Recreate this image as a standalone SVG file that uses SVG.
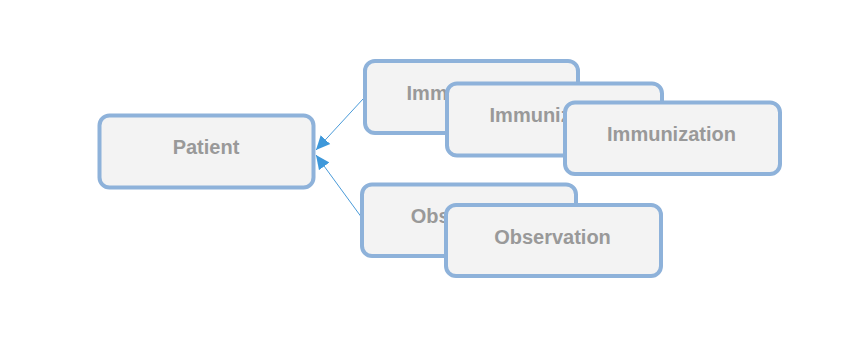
<svg xmlns="http://www.w3.org/2000/svg" width="850" height="338" viewBox="0 0 850 338">
<style>
.box{fill:#f3f3f3;stroke:#8eb2da;stroke-width:4}
.lbl{font-family:"Liberation Sans",Arial,sans-serif;font-weight:bold;font-size:20px;fill:#999999;text-anchor:middle}
.edge{stroke:#4a9bd9;stroke-width:1;fill:none}
</style>
<defs>
<marker id="arr" markerUnits="userSpaceOnUse" markerWidth="16" markerHeight="14" refX="14" refY="7" orient="auto" viewBox="0 0 16 14">
<path d="M0,0.5 L14,7 L0,13.5 Z" fill="#3e98da"/>
</marker>
</defs>
<rect width="850" height="338" fill="#ffffff"/>
<g id="connectors">
<line class="edge" x1="363" y1="99" x2="316" y2="150" marker-end="url(#arr)"/>
<line class="edge" x1="362" y1="218" x2="316" y2="155" marker-end="url(#arr)"/>
</g>
<g id="patient">
<rect class="box" x="99.5" y="115.5" width="214" height="72" rx="10"/>
<text class="lbl" x="206" y="154">Patient</text>
</g>
<g id="immunization1">
<rect class="box" x="365" y="61" width="213" height="72" rx="10"/>
<text class="lbl" x="471" y="100">Immunization</text>
</g>
<g id="immunization2">
<rect class="box" x="447" y="83.5" width="215" height="72" rx="10"/>
<text class="lbl" x="554" y="122">Immunization</text>
</g>
<g id="immunization3">
<rect class="box" x="565" y="102.5" width="215" height="71.5" rx="10"/>
<text class="lbl" x="671.5" y="141">Immunization</text>
</g>
<g id="observation1">
<rect class="box" x="362" y="184.5" width="214" height="71.5" rx="10"/>
<text class="lbl" x="469" y="223">Observation</text>
</g>
<g id="observation2">
<rect class="box" x="446" y="205" width="215" height="71" rx="10"/>
<text class="lbl" x="552.5" y="244">Observation</text>
</g>
</svg>
